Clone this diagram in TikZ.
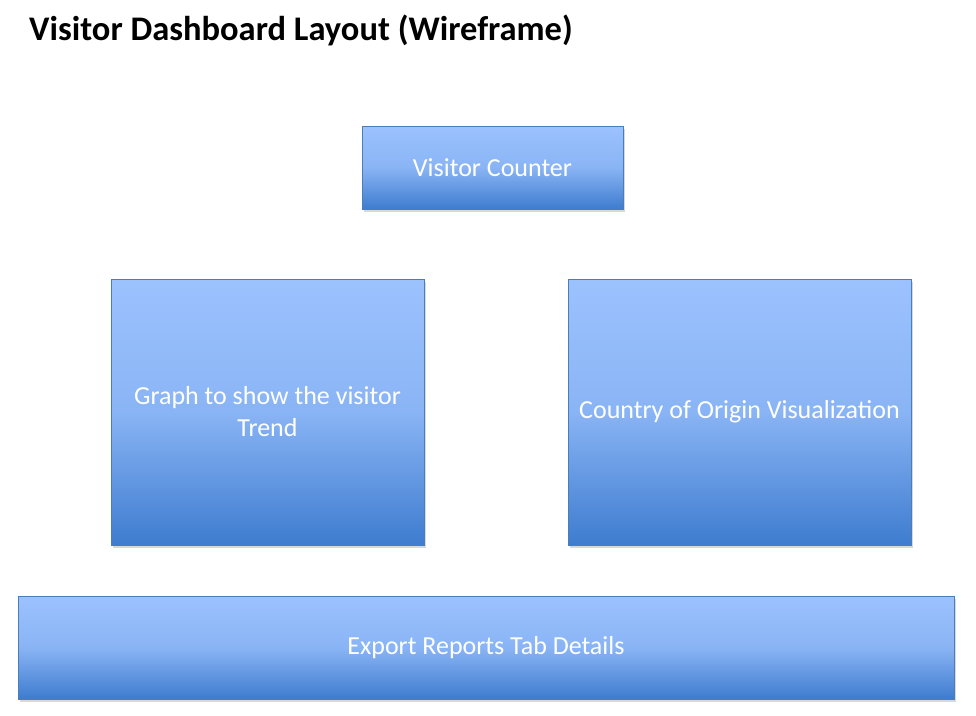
\documentclass[tikz,border=0pt]{standalone}
\usepackage{fontspec}
\setmainfont{Carlito}
\usetikzlibrary{shadows}
\definecolor{boxtop}{HTML}{9CC2FE}
\definecolor{boxbot}{HTML}{3E7CCF}
\definecolor{boxline}{HTML}{4A7EBB}
\begin{document}
\begin{tikzpicture}[x=1pt,y=-1pt,
  wbox/.style={draw=boxline, line width=0.9pt, top color=boxtop, bottom color=boxbot,
    middle color=boxtop!80!boxbot, shading angle=0,
    drop shadow={shadow xshift=2pt, shadow yshift=-3pt, opacity=0.25, fill=black!60},
    text=white, font=\fontsize{26}{32}\selectfont, align=center, inner sep=0pt},
  ttl/.style={font=\bfseries\fontsize{34.5}{40}\selectfont, anchor=base west, inner sep=0pt}]
\useasboundingbox (0,0) rectangle (976,715);
\fill[white] (0,0) rectangle (976,715);
\node[ttl] (title) at (29,40) {Visitor Dashboard Layout (Wireframe)};
\node[wbox, minimum width=261pt, minimum height=83pt] (vc) at (492.5,167.5) {Visitor Counter};
\node[wbox, minimum width=313pt, minimum height=266pt] (graph) at (267.5,412) {Graph to show the visitor\\Trend};
\node[wbox, minimum width=343pt, minimum height=266pt] (country) at (739.5,412) {Country of Origin Visualization};
\node[wbox, minimum width=936pt, minimum height=103pt] (export) at (486,647.5) {Export Reports Tab Details};
\end{tikzpicture}
\end{document}
